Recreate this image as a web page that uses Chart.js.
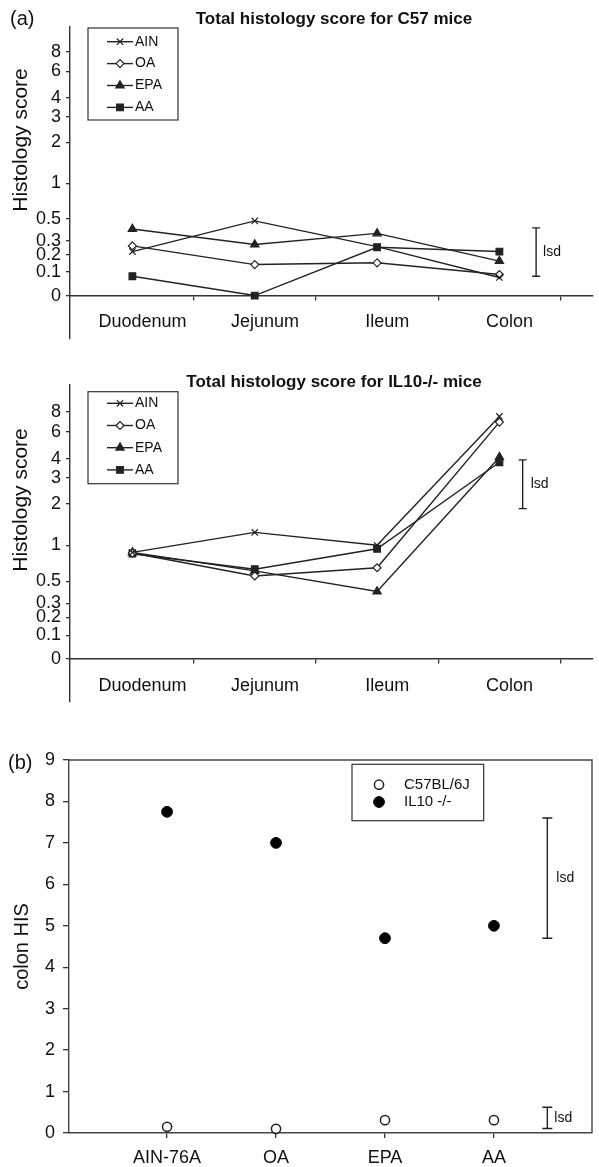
<!DOCTYPE html>
<html>
<head>
<meta charset="utf-8">
<script src="https://cdn.jsdelivr.net/npm/chart.js@4.4.1/dist/chart.umd.min.js"></script>
<style>
body { margin: 0; background: #fff; width: 599px; height: 1167px; position: relative; overflow: hidden;
       font-family: "Liberation Sans", Arial, sans-serif; color: #111; }
canvas { position: absolute; left: 0; }
.t { position: absolute; white-space: nowrap; line-height: 1.15; }
.rot { transform: translate(-50%, -50%) rotate(-90deg); }
</style>
</head>
<body>
<canvas id="c57Chart" width="599" height="345" style="top:0"></canvas>
<canvas id="il10Chart" width="599" height="358" style="top:350px"></canvas>
<canvas id="colonChart" width="599" height="467" style="top:700px"></canvas>

<div class="t" style="left:10px;top:7px;font-size:20px">(a)</div>
<div class="t" style="left:70px;width:528px;text-align:center;top:9px;font-size:17px;font-weight:bold">Total histology score for C57 mice</div>
<div class="t rot" style="left:20px;top:140px;font-size:21px">Histology score</div>

<div class="t" style="left:70px;width:528px;text-align:center;top:372px;font-size:17px;font-weight:bold">Total histology score for IL10-/- mice</div>
<div class="t rot" style="left:20px;top:500px;font-size:21px">Histology score</div>

<div class="t" style="left:8px;top:751px;font-size:20px">(b)</div>

<script>
// --- data ---
var sites = ["Duodenum", "Jejunum", "Ileum", "Colon"];
var dietNames = ["AIN", "OA", "EPA", "AA"];
var histTicks = [0, 0.1, 0.2, 0.3, 0.5, 1, 2, 3, 4, 6, 8];

var c57Ain = [0.22, 0.48, 0.255, 0.074];
var c57Oa  = [0.26, 0.14, 0.15, 0.088];
var c57Epa = [0.40, 0.27, 0.36, 0.16];
var c57Aa  = [0.08, 0.0, 0.25, 0.22];
var c57Lsd = [0.08, 0.41];

var il10Ain = [0.88, 1.25, 1.00, 7.5];
var il10Oa  = [0.87, 0.56, 0.66, 6.9];
var il10Epa = [0.88, 0.62, 0.40, 4.1];
var il10Aa  = [0.86, 0.64, 0.94, 3.8];
var il10Lsd = [1.85, 3.94];

var diets = ["AIN-76A", "OA", "EPA", "AA"];
var colonC57  = [0.15, 0.10, 0.31, 0.31];
var colonIl10 = [7.75, 7.0, 4.7, 5.0];
var colonLsdBig = [4.7, 7.6];
var colonLsdSmall = [0.11, 0.62];

// the histology axis is log(score + 0.25)
var SHIFT = 0.25;
var FONT = '"Liberation Sans", Arial, sans-serif';
var INK = "#222";

function toPoints(vals, shift) {
    return vals.map((v, i) => ({ x: i + 1, y: v + shift }));
}

var lsdPlugin = {
    id: "lsdBar",
    afterDatasetsDraw(chart, args, opts) {
        var xs = chart.scales.x, ys = chart.scales.y, ctx = chart.ctx;
        (opts.bars || []).forEach(b => {
            var x = xs.getPixelForValue(b.x);
            var y1 = ys.getPixelForValue(b.lo), y2 = ys.getPixelForValue(b.hi);
            ctx.save();
            ctx.strokeStyle = INK;
            ctx.lineWidth = 1.4;
            ctx.beginPath();
            ctx.moveTo(x, y1); ctx.lineTo(x, y2);
            ctx.moveTo(x - b.cap, y1); ctx.lineTo(x + b.cap, y1);
            ctx.moveTo(x - b.cap, y2); ctx.lineTo(x + b.cap, y2);
            ctx.stroke();
            ctx.fillStyle = "#111";
            ctx.font = "14px " + FONT;
            ctx.textBaseline = "middle";
            ctx.fillText("lsd", x + b.gap, (y1 + y2) / 2);
            ctx.restore();
        });
    }
};

var boxLegend = {
    id: "boxLegend",
    afterDraw(chart, args, o) {
        if (!o.w) return;
        var ctx = chart.ctx, a = chart.chartArea;
        var x0 = a.left + o.dx, y0 = a.top + o.dy;
        ctx.save();
        ctx.strokeStyle = "#333";
        ctx.lineWidth = 1.2;
        ctx.strokeRect(x0, y0, o.w, o.h);
        chart.data.datasets.forEach((ds, i) => {
            var y = y0 + o.row0 + i * o.rowH;
            var mx = x0 + o.markX;
            if (o.line) {
                ctx.beginPath();
                ctx.moveTo(mx - o.line, y);
                ctx.lineTo(mx + o.line, y);
                ctx.strokeStyle = ds.borderColor;
                ctx.lineWidth = ds.borderWidth;
                ctx.stroke();
            }
            ctx.fillStyle = ds.pointBackgroundColor;
            ctx.strokeStyle = ds.pointBorderColor;
            ctx.lineWidth = ds.pointBorderWidth;
            Chart.helpers.drawPoint(ctx, {
                pointStyle: ds.pointStyle, rotation: 0,
                radius: ds.pointRadius, borderWidth: ds.pointBorderWidth
            }, mx, y);
            ctx.fillStyle = "#111";
            ctx.font = o.font;
            ctx.textBaseline = "middle";
            ctx.fillText(ds.label, x0 + o.textX, y);
        });
        ctx.restore();
    }
};

var framePlugin = {
    id: "frame",
    afterDraw(chart, args, o) {
        if (!o.on) return;
        var ctx = chart.ctx, a = chart.chartArea;
        ctx.save();
        ctx.strokeStyle = "#444";
        ctx.lineWidth = 1.4;
        ctx.beginPath();
        ctx.moveTo(a.left, a.top);
        ctx.lineTo(a.right, a.top);
        ctx.lineTo(a.right, a.bottom);
        ctx.stroke();
        ctx.restore();
    }
};

var markers = [
    { pointStyle: "crossRot", pointRadius: 4.5, pointBackgroundColor: INK },
    { pointStyle: "rectRot", pointRadius: 4, pointBackgroundColor: "#fff" },
    { pointStyle: "triangle", pointRadius: 4.8, pointBackgroundColor: INK },
    { pointStyle: "rect", pointRadius: 4.7, pointBackgroundColor: INK }
];

function histChart(id, series, lsd, yMin, yMax, padTop, legendDy, legendRow0, legendRowH, lsdX, lsdGap) {
    var ctx = document.getElementById(id).getContext("2d");
    return new Chart(ctx, {
        type: "line",
        data: {
            datasets: series.map((vals, i) => Object.assign({
                label: dietNames[i],
                data: toPoints(vals, SHIFT),
                borderColor: INK,
                borderWidth: 1.4,
                pointBorderColor: INK,
                pointBorderWidth: 1.2,
                tension: 0,
                clip: false
            }, markers[i]))
        },
        options: {
            responsive: false,
            animation: false,
            devicePixelRatio: 1,
            layout: { padding: { top: padTop, bottom: 2, right: 1, left: 0 } },
            plugins: {
                legend: { display: false },
                tooltip: { enabled: false },
                title: { display: false },
                boxLegend: { dx: 18, dy: legendDy, w: 90, h: 92, row0: legendRow0, rowH: legendRowH,
                             markX: 32, line: 13, textX: 47, font: "14px " + FONT },
                lsdBar: { bars: [{ x: lsdX, lo: lsd[0] + SHIFT, hi: lsd[1] + SHIFT, cap: 4, gap: lsdGap }] }
            },
            scales: {
                x: {
                    type: "linear",
                    min: 0.49,
                    max: 4.765,
                    position: { y: SHIFT },
                    afterBuildTicks: s => { s.ticks = [1.5, 2.5, 3.5, 4.5].map(v => ({ value: v })); },
                    afterFit: s => { s.paddingLeft = 0; s.paddingRight = 0; },
                    grid: { drawOnChartArea: false, drawTicks: true, tickLength: 4, color: "#333", lineWidth: 1.3 },
                    border: { color: "#333", width: 1.4 },
                    ticks: {
                        autoSkip: false, maxRotation: 0, padding: 12, labelOffset: -51,
                        color: "#111", font: { family: FONT, size: 18 },
                        callback: (v, i) => sites[i]
                    }
                },
                y: {
                    type: "logarithmic",
                    min: yMin,
                    max: yMax,
                    afterBuildTicks: s => { s.ticks = histTicks.map(v => ({ value: v + SHIFT })); },
                    afterFit: s => { s.width = 70; s.paddingTop = 0; s.paddingBottom = 0; },
                    grid: { drawOnChartArea: false, drawTicks: true, tickLength: 4, color: "#333", lineWidth: 1.3 },
                    border: { color: "#333", width: 1.4 },
                    ticks: {
                        autoSkip: false, padding: 5, color: "#111", font: { family: FONT, size: 18 },
                        callback: v => String(Math.round((v - SHIFT) * 10) / 10)
                    }
                }
            }
        },
        plugins: [lsdPlugin, boxLegend]
    });
}

histChart("c57Chart", [c57Ain, c57Oa, c57Epa, c57Aa], c57Lsd, 0.134, 11.8, 27, 1, 13.7, 21.9, 4.30, 7);
histChart("il10Chart", [il10Ain, il10Oa, il10Epa, il10Aa], il10Lsd, 0.136, 12.09, 35, 6.7, 11.6, 22.2, 4.19, 8);

var colonCtx = document.getElementById("colonChart").getContext("2d");
var colonChart = new Chart(colonCtx, {
    type: "line",
    data: {
        datasets: [{
            label: "C57BL/6J",
            data: toPoints(colonC57, 0),
            showLine: false,
            pointStyle: "circle",
            pointRadius: 4.6,
            pointBackgroundColor: "#fff",
            pointBorderColor: INK,
            pointBorderWidth: 1.5,
            borderColor: INK,
            clip: false
        }, {
            label: "IL10 -/-",
            data: toPoints(colonIl10, 0),
            showLine: false,
            pointStyle: "circle",
            pointRadius: 5.4,
            pointBackgroundColor: "#000",
            pointBorderColor: "#000",
            pointBorderWidth: 1,
            borderColor: INK,
            clip: false
        }]
    },
    options: {
        responsive: false,
        animation: false,
        devicePixelRatio: 1,
        layout: { padding: { top: 60, bottom: 0, right: 7, left: 0 } },
        plugins: {
            legend: { display: false },
            tooltip: { enabled: false },
            frame: { on: true },
            boxLegend: { dx: 283, dy: 4.3, w: 131.7, h: 56.4, row0: 20.4, rowH: 17.3,
                         markX: 27, line: 0, textX: 52, font: "15px " + FONT },
            lsdBar: { bars: [
                { x: 4.49, lo: colonLsdBig[0], hi: colonLsdBig[1], cap: 5, gap: 9 },
                { x: 4.49, lo: colonLsdSmall[0], hi: colonLsdSmall[1], cap: 5, gap: 7 }
            ] }
        },
        scales: {
            x: {
                type: "linear",
                min: 0.1,
                max: 4.9,
                afterBuildTicks: s => { s.ticks = diets.map((d, i) => ({ value: i + 1 })); },
                afterFit: s => { s.height = 34; s.paddingLeft = 0; s.paddingRight = 0; },
                grid: { drawOnChartArea: false, drawTicks: true, tickLength: 5, color: "#333", lineWidth: 1.3 },
                border: { color: "#444", width: 1.4 },
                ticks: {
                    autoSkip: false, maxRotation: 0, padding: 9,
                    color: "#111", font: { family: FONT, size: 18 },
                    callback: (v, i) => diets[i]
                }
            },
            y: {
                min: 0,
                max: 9,
                afterFit: s => { s.width = 69; s.paddingTop = 0; s.paddingBottom = 0; },
                grid: { drawOnChartArea: false, drawTicks: true, tickLength: 6, color: "#333", lineWidth: 1.3 },
                border: { color: "#444", width: 1.4 },
                title: { display: true, text: "colon HIS", color: "#111", font: { family: FONT, size: 20 }, padding: { top: 10, bottom: 0 } },
                ticks: { stepSize: 1, padding: 8, color: "#111", font: { family: FONT, size: 18 } }
            }
        }
    },
    plugins: [lsdPlugin, boxLegend, framePlugin]
});
</script>
</body>
</html>
